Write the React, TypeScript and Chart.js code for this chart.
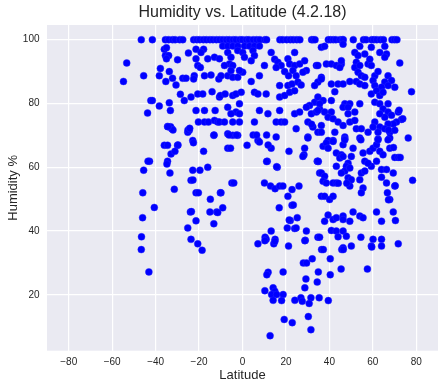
import React, { useEffect, useRef } from "react";
import { Chart, registerables } from "chart.js";

Chart.register(...registerables);

const TITLE = "Humidity vs. Latitude (4.2.18)";
const X_LABEL = "Latitude";
const Y_LABEL = "Humidity %";
const X_TICKS = [-80, -60, -40, -20, 0, 20, 40, 60, 80];
const Y_TICKS = [20, 40, 60, 80, 100];

// cities reporting 100 % humidity (latitude only)
const saturatedLatitudes = [
  -46.6, -41.5, -35.5, -34, -32.2, -31, -28.9, -27.5, -22.5, -21, -19.7, -18, -16.6, -15, -13.6, -12, -10.5,
  -9, -7.4, -6, -4.3, -3, -1.2, 0, 1.8, 3, 4.9, 6.5, 8, 10.3, 11.1, 17.2, 18.5, 20.3, 22, 23.4, 25, 26.4,
  31.8, 32.5, 33.4, 39.5, 40.5, 41.8, 43, 44.9, 46, 46.4, 51, 55.7, 56.9, 59.5, 60.5, 61.8, 63.5, 64.9,
  68.8, 70, 71.1,
];

// [latitude, humidity] 80–99 %
const humidCities: [number, number][] = [
  [-53.3, 92.7], [-54.8, 86.9], [-45.5, 88.7], [-36, 97], [-35, 97.5], [-35.5, 95], [-34, 95], [-35, 94],
  [-29.9, 93.7], [-24.9, 95.8], [-21.4, 97], [-17.9, 97], [-19.1, 96], [-21.4, 94], [-20.6, 91.9], [-19.4, 91.3],
  [-16, 94], [-12.9, 94.5], [-10.6, 94], [-37.8, 91], [-33.7, 90], [-38.3, 88.7], [-35.3, 86.9], [-32.2, 87.9],
  [-30.6, 85.8], [-27.5, 87.9], [-26, 87.9], [-22.2, 88.7], [-22.5, 87.7], [-17.5, 88.7], [-14.5, 88.9],
  [-10.9, 87.7], [-14, 83.7], [-28.6, 82.9], [-26.8, 80.9], [-23.7, 82], [-20.6, 83], [-18.3, 83], [-10.6, 82],
  [-42.2, 80.9], [-41.5, 80.9], [-33.7, 80.2],
  [-9.1, 98], [-6.8, 98], [-4.5, 98], [-2.2, 98], [0.9, 98], [3.2, 98], [5.5, 98], [7.8, 98],
  [-6.8, 96], [-5.3, 94.5], [-2.2, 96.6], [0.1, 96], [0.9, 94.5], [4.8, 96.6], [5.5, 95], [4, 93.4],
  [-6, 92.4], [-4.5, 91.9], [-8.3, 91.9], [-9.9, 88.7], [-6.8, 88.7], [-4.5, 88.2], [-2.2, 88.2], [0.1, 89.8],
  [-1.4, 90.3], [-5.3, 90.3], [4, 86.9], [7.8, 88.7], [10.1, 91.9], [13.2, 96], [14.8, 93.9], [16.3, 92.9],
  [17.8, 91.9], [15.5, 91.3], [24, 96], [20.9, 94], [21.7, 92.4], [24, 91.9], [23.2, 90.3], [19.4, 90],
  [21.2, 88.7], [26.3, 92.4], [28.6, 93.4], [29.4, 90.3], [27.8, 89.8], [24.7, 88.7], [34, 91.9], [36.3, 97.6],
  [34.7, 86.7], [33.2, 85.6], [36.3, 88.2], [17.1, 85.6], [20.9, 85.6], [22.8, 86.1], [25.5, 86.7], [27, 85.8],
  [-10.2, 82.5], [-8, 83], [-4.5, 82.5], [-3, 83], [-0.6, 83.5], [5.5, 83.5], [7.1, 83], [10.9, 83],
  [17.1, 82], [19.4, 82.5], [21.7, 83.5], [24, 84], [33.2, 80.4],
  [37.8, 97.9], [46.3, 98.6], [54, 97.9], [59.3, 97.6], [65.5, 97.9], [51.7, 96], [53.2, 95], [56.3, 95.5],
  [63.2, 96], [66.3, 95.5], [65.5, 94.5], [34.7, 91.9], [38.6, 92.4], [40.9, 92.4], [43.2, 91.9], [45.5, 92.4],
  [44.8, 91.3], [45.5, 93.4], [52.4, 92.9], [51.7, 91.3], [54, 91.9], [57.8, 92.4], [59.3, 91.9], [58.6, 93.9],
  [53.2, 89.8], [54.7, 88.7], [56.3, 88.2], [72.4, 92.7], [60.9, 88.7], [62.4, 90], [60.1, 87.2], [67, 88.7],
  [68.6, 87.2], [65.5, 86.7], [67, 85.6], [70.1, 85.1], [64, 85.1], [60.9, 85.6], [59.3, 83], [61.7, 84],
  [63.2, 82.5], [64.7, 83.5], [77.8, 83.7], [36.3, 87.7], [40.9, 86.1], [44, 86.1], [46.3, 86.1], [49.4, 86.9],
  [52.4, 86.9], [54, 86.1], [56.3, 85.6], [42.5, 83.7], [34.7, 82], [37.1, 80.9], [40.9, 80.9], [60.9, 80.4],
];

// [latitude, humidity] 60–80 %
const moderateCities: [number, number][] = [
  [-38.3, 79.2], [-43.7, 77], [-33.2, 77.8], [-21.4, 77.8], [-17.5, 77.8], [-12.6, 77.8], [-20.3, 74.2],
  [-17.5, 74.2], [-15.7, 74.2], [-12.9, 74.7], [-11.4, 74.2], [-34.5, 72.8], [-32.6, 72.1], [-24.5, 71.6],
  [-25.2, 71], [-13.2, 70], [-22.9, 68.4], [30.9, 79.4], [29.4, 78.8], [-6.8, 78.8], [-1.4, 79.9], [-3, 77.3],
  [-5.3, 76.8], [-1.4, 76.8], [7.8, 77.8], [11.7, 76.8], [17.1, 77.8], [24, 76.8], [26.3, 77.3], [31.7, 76.8],
  [34, 77.3], [35.5, 78.3], [-10.6, 74.2], [-8.3, 74.2], [-4.5, 74.2], [-1.4, 74.2], [5.5, 74.2], [15.5, 74.2],
  [17.8, 74.2], [19.4, 74.2], [30.1, 74.2], [32.4, 72.6], [34.7, 71], [36.3, 73.1], [-6.8, 70.5], [-4.5, 70],
  [-2.2, 70], [7.1, 68.4], [15.5, 69.5], [24.7, 72.1], [30.1, 69.5],
  [35.5, 79.9], [34.7, 77.8], [37.8, 77.3], [40.9, 77.3], [47.1, 79.9], [49.4, 79.9], [46.3, 78.8], [48.6, 78.8],
  [51.7, 77.3], [48.6, 76.8], [54, 79.9], [63.2, 79.9], [67, 79.9], [64.7, 78.3], [67, 77.3], [71.7, 77.3],
  [68.6, 76.3], [65.5, 75.7], [63.2, 76.8], [73.2, 75], [70.9, 74.2], [69.4, 73.6], [67, 73.6], [60.9, 74.2],
  [63.2, 72.6], [65.5, 72.1], [67.8, 71], [70.1, 71.6], [62.4, 71], [60.1, 72.6], [39.4, 75.7], [41.7, 75.2],
  [44, 74.2], [46.3, 73.1], [49.4, 74.2], [51.7, 74.7], [36.3, 71], [42.5, 71], [47.1, 69.5], [52.4, 72.1],
  [54.7, 72.1], [57.8, 71], [54, 69.2], [47.1, 68.9], [67.8, 69.2], [62.4, 68.9], [76.3, 69.2], [39.4, 68.4],
  [41.7, 68.4], [73.8, 75.2], [72.1, 77.9],
  [-36, 66.9], [-34.5, 66.9], [-29.9, 66.9], [-32.9, 64.2], [-31.1, 65], [-22.6, 67.7], [-17.9, 65],
  [-42.8, 61.9], [-43.5, 61.9], [-34.5, 61.9], [-34.8, 61], [-16, 60], [-25.1, 71.7], [-24.3, 72.2],
  [-33.1, 72.7], [-32, 71.7], [-34.3, 72.7], [-29.7, 67], [-6.2, 70.1], [-2.8, 70.1], [4.9, 70.1], [6.5, 70.1],
  [11.1, 70.1], [-13.1, 70.1],
  [-6.8, 66], [-5.5, 66], [2.1, 66.9], [7.8, 67.9], [13.2, 66], [11.4, 61.9], [16, 60], [21.4, 65], [28.6, 66],
  [28.3, 63.9], [27.8, 63.4], [30.1, 69.2], [34.4, 61.9], [11.8, 67], [15.7, 60.2], [11.1, 61.8], [31.8, 73.5],
  [34.9, 61.8],
  [37.1, 66.6], [38.6, 67.6], [41.7, 68.1], [39.4, 66], [46.3, 67.1], [47.1, 68.6], [43.2, 64.5], [45.5, 63.9],
  [44.8, 62.9], [46.3, 63.4], [50.9, 66], [50.1, 63.4], [54.5, 68.6], [55.5, 64.5], [58.6, 65], [60.1, 66],
  [61.7, 67.1], [63.2, 65], [64.7, 63.9], [67.8, 66], [67, 68.6], [62.4, 68.6], [70.1, 63.1], [71.7, 63.1],
  [34.7, 61.9], [56.3, 61.9], [59.3, 60.3], [57.8, 61.3], [61.7, 61.9], [48.6, 61.3], [47.8, 60.3],
  [43.2, 60.3], [72.6, 63.1], [69.5, 66.2], [67.2, 71.7],
];

// [latitude, humidity] 40–60 %
const semiDryCities: [number, number][] = [
  [-45.5, 59.1], [-33.4, 58.2], [-22.9, 59.1], [-19.6, 59.1], [-23.7, 55.9], [-45.9, 52], [-31.4, 53.1],
  [-21.4, 52], [-20.3, 52], [-14.8, 50], [-10.2, 52], [-40.6, 47.4], [-24, 46], [-15, 46], [-11.9, 46],
  [-46, 44.2], [-21.4, 43.2], [-13.2, 42.3], [-25.2, 41], [-22.8, 56], [-23.5, 46.1],
  [-4.9, 55.1], [-4, 55.1], [-9.9, 52], [-9.1, 47.3], [-11.4, 45.8], [10.1, 55.1], [12.9, 54.1], [15, 53.3],
  [17.1, 54.1], [18.6, 54.1], [22.8, 53], [26, 54.1], [20.9, 50.9], [22.8, 48.1], [16.9, 47.3], [22, 43.3],
  [25.2, 44.2], [20.6, 41], [24, 40.8], [24.7, 41], [13.2, 40], [29.4, 40], [36.3, 50.9], [35.5, 58.2],
  [23.4, 48.2], [21.5, 43.5],
  [47.1, 58.8], [49.4, 59.8], [45.5, 58.2], [36.3, 58.2], [37.8, 57.2], [37.1, 55.6], [38.6, 55.1], [41.7, 55.1],
  [43.2, 55.1], [48.6, 56.7], [50.1, 56.1], [49.4, 54.1], [54, 56.1], [54.7, 58.2], [56.3, 58.8], [64, 59.3],
  [66.3, 59.3], [69.4, 58.2], [64, 56.9], [66.3, 55.1], [70.1, 54.1], [78.3, 55.9], [55.5, 53.5], [54.7, 52],
  [66.7, 52], [67.8, 49.9], [37.8, 50.9], [40.1, 49.9], [41.7, 50.9], [39.4, 45], [37.8, 43.1], [41.7, 43.6],
  [43.2, 44.2], [46.3, 44.7], [46.3, 43.6], [49.4, 43.1], [50.9, 46], [54, 44.7], [55.5, 44.2], [61.7, 46],
  [64, 43.1], [69.4, 46], [70.4, 43.3], [40.9, 40.2], [43.2, 40], [46.3, 40], [67.2, 49.8], [70.3, 54.2],
  [44.1, 55], [48, 55],
];

// [latitude, humidity] below 40 %
const dryCities: [number, number][] = [
  [-46.5, 38.2], [-23.7, 37.4], [-20.6, 36], [-46.6, 34.2], [-43.1, 27.2], [-18.6, 34],
  [10.4, 38.1], [10.9, 37.4], [15, 37.4], [14.4, 36], [7.1, 36], [21.2, 35.3], [28.9, 37.1], [34.7, 38.1],
  [44, 38.2], [47.8, 38.4], [35.5, 38.1], [54.5, 38.1], [60.1, 37.4], [64, 37.4], [59.3, 35.3], [64, 35.3],
  [71.7, 36], [50.1, 35.3], [46.3, 34.8],
  [10.3, 37], [14.9, 36.8], [28.7, 37], [36.4, 34.2], [37.2, 34.2], [45.7, 34.2], [46.4, 34.2], [59.5, 35],
  [28, 30], [29.5, 30], [32.1, 31.3], [40.4, 31.3], [45.4, 28.1], [57.5, 28.1], [11.8, 27.1], [11.2, 26.3],
  [18.7, 27.2], [34.9, 27.2], [40.4, 26.3], [29.2, 25], [34.4, 24], [28.7, 22.2], [10.3, 21.3], [14.1, 22.2],
  [14.9, 21.1], [13.4, 20.1], [15.7, 20.1], [14.1, 18.3], [18.7, 20.1], [18, 18.2], [24.1, 18.3], [26.9, 19.1],
  [27.5, 18], [31.5, 19.1], [30.7, 17.3], [35.3, 19.1], [39.5, 18.2], [19.2, 12.3], [22.9, 11.3], [30.3, 13.2],
  [31.5, 9.1], [12.7, 7.2],
];

const FONT = "'Liberation Sans', Arial, Helvetica, sans-serif";
const TEXT = "#262626";

const fmt = (v: number | string) => {
  const n = Number(v);
  return n < 0 ? "\u2212" + Math.abs(n) : String(n);
};

export default function App() {
  const ref = useRef<HTMLCanvasElement>(null);

  useEffect(() => {
    const points = [
      ...saturatedLatitudes.map((x) => ({ x, y: 100 })),
      ...[...humidCities, ...moderateCities, ...semiDryCities, ...dryCities].map(([x, y]) => ({ x, y })),
    ];

    const bgPlugin = {
      id: "plotBg",
      beforeDraw(chart: any) {
        const { ctx, chartArea: a } = chart;
        ctx.save();
        ctx.fillStyle = "#EAEAF2";
        ctx.fillRect(a.left, a.top, a.right - a.left, a.bottom - a.top);
        ctx.restore();
      },
    };

    const chart = new Chart(ref.current as HTMLCanvasElement, {
      type: "scatter",
      data: {
        datasets: [
          {
            data: points,
            backgroundColor: "#0000ff",
            borderColor: "rgba(40,40,255,0.7)",
            borderWidth: 0.6,
            pointRadius: 3.5,
          },
        ],
      },
      options: {
        animation: false,
        responsive: false,
        devicePixelRatio: 1,
        layout: { padding: { left: 0, right: 7, top: 0, bottom: 0 } },
        plugins: {
          legend: { display: false },
          tooltip: { enabled: false },
          title: {
            display: true,
            text: TITLE,
            fullSize: false,
            color: TEXT,
            font: { family: FONT, size: 16, weight: "normal" },
            padding: { top: 3, bottom: 2.8 },
          },
        },
        scales: {
          x: {
            type: "linear",
            min: -90,
            max: 90,
            afterBuildTicks: (s: any) => {
              s.ticks = X_TICKS.map((value) => ({ value }));
            },
            afterFit: (s: any) => {
              s.height = 39.3;
            },
            grid: { color: "#ffffff", lineWidth: 1.2, drawTicks: false },
            border: { display: false },
            ticks: {
              padding: 6,
              color: TEXT,
              font: { family: FONT, size: 10 },
              maxRotation: 0,
              autoSkip: false,
              callback: (v: any) => fmt(v),
            },
            title: {
              display: true,
              text: X_LABEL,
              color: TEXT,
              font: { family: FONT, size: 13 },
              padding: { top: 0, bottom: 6.6 },
            },
          },
          y: {
            type: "linear",
            min: 2.5,
            max: 104.6,
            afterBuildTicks: (s: any) => {
              s.ticks = Y_TICKS.map((value) => ({ value }));
            },
            afterFit: (s: any) => {
              s.width = 47;
            },
            grid: { color: "#ffffff", lineWidth: 1.2, drawTicks: false },
            border: { display: false },
            ticks: {
              padding: 7.5,
              color: TEXT,
              font: { family: FONT, size: 10 },
              autoSkip: false,
              callback: (v: any) => fmt(v),
            },
            title: {
              display: true,
              text: Y_LABEL,
              color: TEXT,
              font: { family: FONT, size: 13 },
              padding: { top: 5.2, bottom: 0 },
            },
          },
        },
      },
      plugins: [bgPlugin],
    } as any);

    return () => chart.destroy();
  }, []);

  return (
    <div style={{ position: "fixed", left: 0, top: 0, width: 445, height: 390, background: "#ffffff" }}>
      <canvas ref={ref} width={445} height={390} style={{ display: "block", width: 445, height: 390 }} />
    </div>
  );
}
